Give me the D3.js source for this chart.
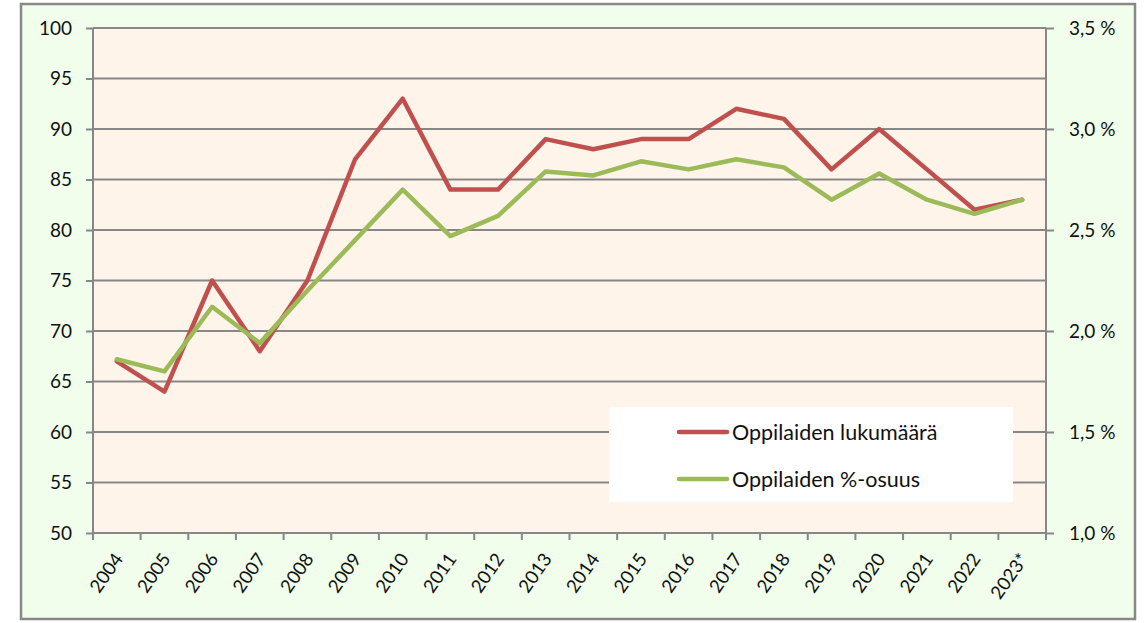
<!DOCTYPE html>
<html>
<head>
<meta charset="utf-8">
<script src="https://cdn.jsdelivr.net/npm/d3@7"></script>
<style>
  html, body { margin: 0; padding: 0; background: #ffffff; }
  svg { display: block; }
  text { font-family: Lato, "Open Sans", sans-serif; fill: #111111; }
</style>
</head>
<body>
<svg id="chart" width="1148" height="623"></svg>
<script>
// ---- data ----
const years = ["2004","2005","2006","2007","2008","2009","2010","2011","2012","2013",
               "2014","2015","2016","2017","2018","2019","2020","2021","2022","2023*"];
const studentCount = [67, 64, 75, 68, 75, 87, 93, 84, 84, 89,
                      88, 89, 89, 92, 91, 86, 90, 86, 82, 83];
const studentShare = [1.86, 1.80, 2.12, 1.94, 2.20, 2.45, 2.70, 2.47, 2.57, 2.79,
                      2.77, 2.84, 2.80, 2.85, 2.81, 2.65, 2.78, 2.65, 2.58, 2.65];
const leftTicks = [50, 55, 60, 65, 70, 75, 80, 85, 90, 95, 100];
const rightTicks = [1.0, 1.5, 2.0, 2.5, 3.0, 3.5];
const seriesNames = ["Oppilaiden lukumäärä", "Oppilaiden %-osuus"];

// ---- layout ----
const svg = d3.select("#chart");
const plot = { left: 93, right: 1046, top: 28, bottom: 533 };
const colors = { count: "#C0504D", share: "#9BBB59", grid: "#878787" };

// outer frame
svg.append("rect").attr("x", 21).attr("y", 4).attr("width", 1114).attr("height", 615)
  .attr("fill", "#F0FEEB").attr("stroke", "#888888").attr("stroke-width", 2.5);

// plot background
svg.append("rect").attr("x", plot.left).attr("y", plot.top)
  .attr("width", plot.right - plot.left).attr("height", plot.bottom - plot.top)
  .attr("fill", "#FEF4EA");

const x = d3.scaleBand().domain(years).range([plot.left, plot.right]);
const yL = d3.scaleLinear().domain([50, 100]).range([plot.bottom, plot.top]);
const yR = d3.scaleLinear().domain([1.0, 3.5]).range([plot.bottom, plot.top]);

// gridlines
svg.append("g").selectAll("line").data(leftTicks.filter(t => t > 50)).join("line")
  .attr("x1", plot.left).attr("x2", plot.right)
  .attr("y1", d => yL(d)).attr("y2", d => yL(d))
  .attr("stroke", colors.grid).attr("stroke-width", 2);

// left axis
const gL = svg.append("g").attr("transform", `translate(${plot.left},0)`)
  .call(d3.axisLeft(yL).tickValues(leftTicks).tickSize(7).tickPadding(14).tickFormat(d3.format("d")));
gL.select(".domain").remove();
gL.selectAll(".tick line").attr("stroke", colors.grid).attr("stroke-width", 2);
gL.selectAll(".tick text").style("font-size", "19px").attr("fill", "#111111");
svg.append("line").attr("x1", plot.left).attr("x2", plot.left)
  .attr("y1", plot.top).attr("y2", plot.bottom + 7)
  .attr("stroke", colors.grid).attr("stroke-width", 2);

// right axis
const gR = svg.append("g").attr("transform", `translate(${plot.right},0)`)
  .call(d3.axisRight(yR).tickValues(rightTicks).tickSize(8).tickPadding(15)
    .tickFormat(d => d.toFixed(1).replace(".", ",") + " %"));
gR.select(".domain").remove();
gR.selectAll(".tick line").attr("stroke", colors.grid).attr("stroke-width", 2);
gR.selectAll(".tick text").style("font-size", "19px").attr("fill", "#111111");
svg.append("line").attr("x1", plot.right).attr("x2", plot.right)
  .attr("y1", plot.top).attr("y2", plot.bottom + 7)
  .attr("stroke", colors.grid).attr("stroke-width", 2);

// bottom axis
svg.append("line").attr("x1", plot.left).attr("x2", plot.right)
  .attr("y1", plot.bottom).attr("y2", plot.bottom)
  .attr("stroke", colors.grid).attr("stroke-width", 2);
svg.append("g").selectAll("line").data(years).join("line")
  .attr("x1", d => x(d)).attr("x2", d => x(d))
  .attr("y1", plot.bottom).attr("y2", plot.bottom + 7)
  .attr("stroke", colors.grid).attr("stroke-width", 2);
svg.append("g").selectAll("text").data(years).join("text")
  .attr("transform", d => `translate(${x(d) + x.bandwidth() / 2 + 7},${plot.bottom + 26}) rotate(-55)`)
  .attr("text-anchor", "end")
  .style("font-size", "18.5px")
  .text(d => d);

// lines
const lineCount = d3.line().x((d, i) => x(years[i]) + x.bandwidth() / 2).y(d => yL(d));
const lineShare = d3.line().x((d, i) => x(years[i]) + x.bandwidth() / 2).y(d => yR(d));
svg.append("path").datum(studentCount).attr("d", lineCount)
  .attr("fill", "none").attr("stroke", colors.count).attr("stroke-width", 4.5)
  .attr("stroke-linejoin", "round").attr("stroke-linecap", "round");
svg.append("path").datum(studentShare).attr("d", lineShare)
  .attr("fill", "none").attr("stroke", colors.share).attr("stroke-width", 4.5)
  .attr("stroke-linejoin", "round").attr("stroke-linecap", "round");

// legend
const lg = svg.append("g");
lg.append("rect").attr("x", 609).attr("y", 407).attr("width", 404).attr("height", 95).attr("fill", "#ffffff");
const legendItems = [
  { name: seriesNames[0], color: colors.count, y: 432 },
  { name: seriesNames[1], color: colors.share, y: 479 }
];
legendItems.forEach(it => {
  lg.append("line").attr("x1", 679).attr("x2", 727).attr("y1", it.y).attr("y2", it.y)
    .attr("stroke", it.color).attr("stroke-width", 4.5).attr("stroke-linecap", "round");
  lg.append("text").attr("x", 732).attr("y", it.y).attr("dy", "0.35em")
    .style("font-size", "21.5px").text(it.name);
});
</script>
</body>
</html>
